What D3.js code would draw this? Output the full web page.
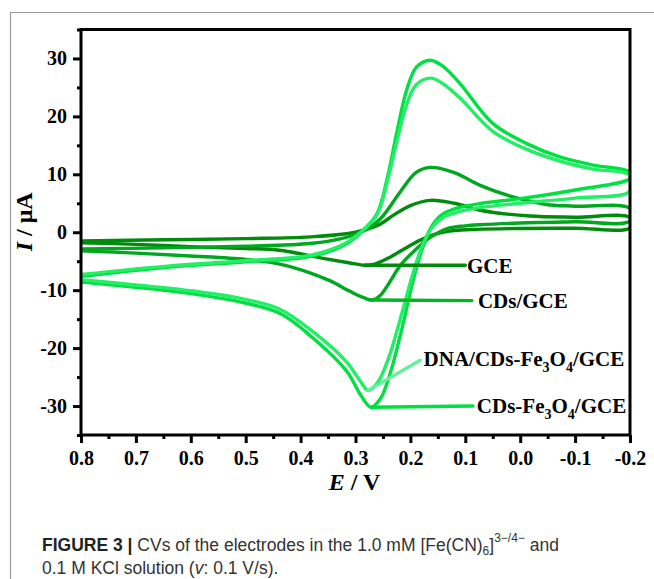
<!DOCTYPE html>
<html>
<head>
<meta charset="utf-8">
<script src="https://cdn.jsdelivr.net/npm/d3@7"></script>
<style>
  body { margin: 0; background: #fff; }
  svg { display: block; }
  .tick text { font-family: "Liberation Serif", "Times New Roman", serif; font-weight: bold; font-size: 20px; fill: #000; }
  .tick line { stroke: #000; stroke-width: 3; }
</style>
</head>
<body>
<div id="chart"></div>
<script>
//////////
// DATA //
//////////

// each scan: forward sweep 0.8 -> -0.2 V, then the reverse sweep back to 0.8 V  [E (V), I (uA)]
var gceScan = [
  [0.8,-1.8],[0.7,-2.1],[0.6,-2.5],[0.5,-2.8],[0.438,-3.1],[0.359,-4.5],[0.31,-5.3],[0.283,-5.7],
  [0.265,-5.5],[0.237,-4.3],[0.21,-2.8],[0.183,-1.4],[0.15,-0.2],[0.12,0.3],[0.08,0.5],[0.0,0.65],[-0.1,0.7],[-0.2,0.75],
  [-0.2,2.5],[-0.1,2.6],[-0.018,2.8],[0.073,3.8],[0.12,5.0],[0.164,5.5],[0.2,4.6],[0.23,3.0],[0.255,1.4],
  [0.3,0.0],[0.383,-0.8],[0.5,-1.1],[0.65,-1.3],[0.8,-1.5]
];
var cdsScan = [
  [0.8,-3.2],[0.7,-3.6],[0.6,-4.1],[0.5,-4.7],[0.438,-5.5],[0.383,-7.0],[0.346,-8.4],[0.31,-10.2],[0.285,-11.3],[0.27,-11.7],
  [0.255,-10.9],[0.237,-8.5],[0.219,-5.8],[0.195,-3.4],[0.164,-0.9],[0.134,0.6],[0.1,1.1],[0.073,1.3],[0.0,1.6],[-0.1,1.8],[-0.2,1.95],
  [-0.2,4.1],[-0.1,4.5],[-0.047,4.8],[0.013,6.1],[0.073,8.1],[0.12,10.3],[0.164,11.2],[0.19,10.3],[0.219,6.9],[0.255,2.3],
  [0.29,0.0],[0.33,-1.2],[0.383,-1.95],[0.5,-2.4],[0.65,-2.7],[0.8,-2.9]
];
var cdsFeScan = [
  [0.8,-8.6],[0.7,-9.5],[0.6,-10.6],[0.516,-11.9],[0.438,-14.0],[0.377,-18.3],[0.316,-24.0],[0.29,-28.2],[0.272,-30.2],
  [0.255,-28.8],[0.237,-24.4],[0.213,-15.7],[0.195,-8.3],[0.177,-2.5],[0.16,1.2],[0.14,3.2],[0.11,4.3],[0.07,5.0],[0.0,5.8],[-0.1,7.3],[-0.2,9.3],
  [-0.2,10.4],[-0.133,11.6],[-0.072,13.0],[-0.012,15.3],[0.05,18.8],[0.11,25.7],[0.14,28.6],[0.164,29.7],[0.189,28.5],
  [0.207,24.5],[0.225,17.1],[0.243,9.0],[0.261,3.2],[0.292,-0.2],[0.32,-2.2],[0.383,-4.2],[0.5,-5.1],[0.638,-6.0],[0.8,-7.6]
];
var dnaScan = [
  [0.8,-8.2],[0.7,-9.1],[0.6,-10.1],[0.516,-11.3],[0.438,-13.3],[0.377,-17.2],[0.316,-22.4],[0.292,-25.6],[0.277,-27.3],
  [0.26,-26.0],[0.24,-21.8],[0.215,-13.8],[0.195,-7.0],[0.177,-2.0],[0.16,0.9],[0.14,2.6],[0.11,3.6],[0.07,4.3],[0.0,5.0],[-0.1,5.9],[-0.2,7.1],
  [-0.2,9.8],[-0.133,10.9],[-0.072,12.3],[-0.012,14.3],[0.05,17.4],[0.11,23.2],[0.14,25.6],[0.163,26.6],[0.189,25.5],
  [0.207,22.0],[0.225,15.5],[0.243,8.4],[0.261,3.0],[0.292,-0.1],[0.32,-2.0],[0.383,-4.0],[0.5,-4.9],[0.638,-5.8],[0.8,-7.3]
];

var seriesNames = ["GCE", "CDs/GCE", "CDs-Fe3O4/GCE", "DNA/CDs-Fe3O4/GCE"];
var seriesColors = ["#008c0a", "#00a820", "#00e040", "#22ee66"];

// leader lines from the cathodic peaks to the labels [E, I]
var leaderStart = [[0.283,-5.7], [0.27,-11.7], [0.272,-30.2], [0.277,-27.3]];
var leaderEnd   = [[0.10,-5.7], [0.088,-11.8], [0.086,-30.0], [0.182,-22.1]];
var leaderColors = ["#008c0a", "#00b422", "#00e040", "#66f09a"];
var labelPos    = [[0.097,-5.7], [0.077,-11.8], [0.079,-30.0], [0.176,-21.8]];

var xTicks = [0.8, 0.7, 0.6, 0.5, 0.4, 0.3, 0.2, 0.1, 0.0, -0.1, -0.2];
var xTickLabels = ["0.8","0.7","0.6","0.5","0.4","0.3","0.2","0.1","0.0","-0.1","-0.2"];
var xMinor = [0.75, 0.65, 0.55, 0.45, 0.35, 0.25, 0.15, 0.05, -0.05, -0.15];
var yTicks = [30, 20, 10, 0, -10, -20, -30];
var yTickLabels = ["30","20","10","0","-10","-20","-30"];
var yMinor = [35, 25, 15, 5, -5, -15, -25, -35];

//////////////////////////////
// SVG AND GRAPH DIMENSIONS //
//////////////////////////////

var svgWidth = 654, svgHeight = 579;
var margin = { top: 29.5, right: 24, bottom: 144, left: 81 };
var width = svgWidth - margin.left - margin.right,
    height = svgHeight - margin.top - margin.bottom;

var svgRoot = d3.select("#chart").append("svg")
  .attr("width", svgWidth)
  .attr("height", svgHeight);

// grey page frame round the figure
svgRoot.append("path")
  .attr("d", "M10.5," + svgHeight + "V12.5H" + svgWidth)
  .attr("fill", "none")
  .attr("stroke", "#9a9a9a")
  .attr("stroke-width", 1.2);

var svg = svgRoot.append("g")
  .attr("transform", "translate(" + margin.left + "," + margin.top + ")");

//////////
// AXES //
//////////

var x = d3.scaleLinear().domain([0.8, -0.2]).range([0, width]);
var y = d3.scaleLinear().domain([-35, 35]).range([height, 0]);

var xAxis = d3.axisBottom(x).tickValues(xTicks).tickSize(8).tickPadding(8).tickSizeOuter(0)
  .tickFormat(function (d, i) { return xTickLabels[i]; });
var xAxisMinor = d3.axisBottom(x).tickValues(xMinor).tickSize(4).tickSizeOuter(0).tickFormat("");
var yAxis = d3.axisLeft(y).tickValues(yTicks).tickSize(8).tickPadding(6).tickSizeOuter(0)
  .tickFormat(function (d, i) { return yTickLabels[i]; });
var yAxisMinor = d3.axisLeft(y).tickValues(yMinor).tickSize(4).tickSizeOuter(0).tickFormat("");

svg.append("g").attr("transform", "translate(0," + height + ")").call(xAxis);
svg.append("g").attr("transform", "translate(0," + height + ")").call(xAxisMinor);
svg.append("g").call(yAxis);
svg.append("g").call(yAxisMinor);
svg.selectAll(".domain").remove();

///////////
// CURVES //
///////////

var line = d3.line()
  .x(function (d) { return x(d[0]); })
  .y(function (d) { return y(d[1]); })
  .curve(d3.curveCatmullRom.alpha(0.5));

svg.append("clipPath").attr("id", "plotClip")
  .append("rect").attr("width", width).attr("height", height);

var scans = [gceScan, cdsScan, cdsFeScan, dnaScan];
var plot = svg.append("g").attr("clip-path", "url(#plotClip)");

plot.selectAll(".scan")
  .data(scans)
  .enter().append("path")
  .attr("class", "scan")
  .attr("d", line)
  .attr("fill", "none")
  .attr("stroke", function (d, i) { return seriesColors[i]; })
  .attr("stroke-width", 3.4)
  .attr("stroke-linejoin", "round");

plot.selectAll(".leader")
  .data(leaderStart)
  .enter().append("line")
  .attr("class", "leader")
  .attr("x1", function (d) { return x(d[0]); })
  .attr("y1", function (d) { return y(d[1]); })
  .attr("x2", function (d, i) { return x(leaderEnd[i][0]); })
  .attr("y2", function (d, i) { return y(leaderEnd[i][1]); })
  .attr("stroke", function (d, i) { return leaderColors[i]; })
  .attr("stroke-width", 3.4)
  .attr("stroke-linecap", "round");

// frame on top of the curves
svg.append("rect")
  .attr("width", width).attr("height", height)
  .attr("fill", "none").attr("stroke", "#000").attr("stroke-width", 3);

////////////
// LABELS //
////////////

var serif = "'Liberation Serif', 'Times New Roman', serif";

var labels = svg.selectAll(".slabel")
  .data(seriesNames)
  .enter().append("text")
  .attr("class", "slabel")
  .attr("x", function (d, i) { return x(labelPos[i][0]); })
  .attr("y", function (d, i) { return y(labelPos[i][1]); })
  .attr("dy", "0.35em")
  .style("font-family", serif).style("font-weight", "bold").style("font-size", "21px");

// split "Fe3O4" into subscripts
labels.each(function (d) {
  var t = d3.select(this);
  var shifted = false;
  d.split(/(\d)/).forEach(function (p) {
    if (p === "") return;
    if (/^\d$/.test(p)) {
      t.append("tspan").attr("dy", 6).style("font-size", "14px").text(p);
      shifted = true;
    } else {
      t.append("tspan").attr("dy", shifted ? -6 : null).text(p);
      shifted = false;
    }
  });
});

// axis titles
svg.append("text")
  .attr("x", width / 2 - 1)
  .attr("y", height + 55)
  .attr("text-anchor", "middle")
  .style("font-family", serif).style("font-weight", "bold").style("font-size", "24px")
  .call(function (t) {
    t.append("tspan").style("font-style", "italic").text("E");
    t.append("tspan").text(" / V");
  });

svg.append("text")
  .attr("transform", "translate(" + (-49) + "," + (y(1.8)) + ") rotate(-90)")
  .attr("text-anchor", "middle")
  .style("font-family", serif).style("font-weight", "bold").style("font-size", "24px")
  .call(function (t) {
    t.append("tspan").style("font-style", "italic").text("I");
    t.append("tspan").text(" / \u03bcA");
  });

/////////////
// CAPTION //
/////////////

var cap = svgRoot.append("g")
  .style("font-family", "'Liberation Sans', Arial, sans-serif")
  .style("font-size", "17.5px")
  .style("fill", "#333");

var cap1 = cap.append("text").attr("x", 42).attr("y", 551);
cap1.append("tspan").style("font-weight", "bold").style("fill", "#222").text("FIGURE 3 | ");
cap1.append("tspan").text("CVs of the electrodes in the 1.0 mM [Fe(CN)");
cap1.append("tspan").attr("dy", 4).style("font-size", "12px").text("6");
cap1.append("tspan").attr("dy", -4).text("]");
cap1.append("tspan").attr("dy", -9).style("font-size", "12px").text("3\u2212/4\u2212");
cap1.append("tspan").attr("dy", 9).text(" and");

var cap2 = cap.append("text").attr("x", 42).attr("y", 574);
cap2.append("tspan").text("0.1 M KCl solution (");
cap2.append("tspan").style("font-style", "italic").text("v");
cap2.append("tspan").text(": 0.1 V/s).");
</script>
</body>
</html>
